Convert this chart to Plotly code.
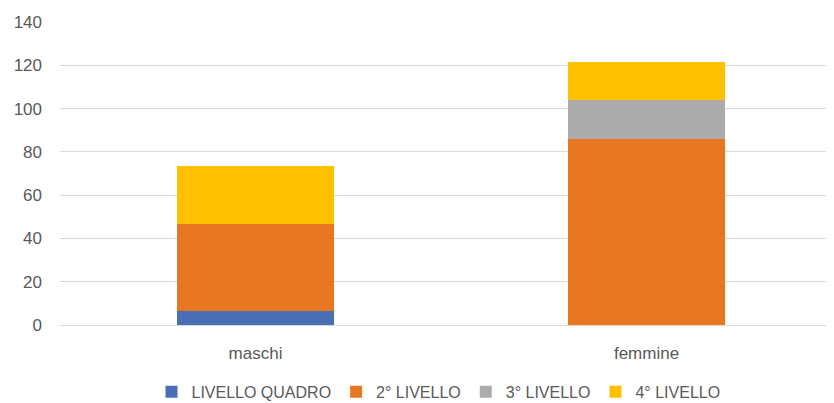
import plotly.graph_objects as go

categories = ["maschi", "femmine"]
series_names = ["LIVELLO QUADRO", "2° LIVELLO", "3° LIVELLO", "4° LIVELLO"]
livello_quadro = [6.5, 0]
livello_2 = [40, 86]
livello_3 = [0, 18]
livello_4 = [27, 17.5]
colors = ["#4A6EB5", "#E87722", "#ABABAB", "#FFC000"]

fig = go.Figure()
for name, vals, col in zip(series_names, [livello_quadro, livello_2, livello_3, livello_4], colors):
    fig.add_trace(go.Bar(x=categories, y=vals, name=name, marker=dict(color=col, line=dict(width=0)), width=0.4))

font = dict(family="Liberation Sans, Arial, sans-serif", size=17, color="#595959")
legend_font = dict(family="Liberation Sans, Arial, sans-serif", size=16, color="#595959")
# page body has an 8px margin, so the figure is offset 8px in the window
fig.update_layout(
    barmode="stack",
    width=834, height=395,
    margin=dict(l=52, r=0, t=14, b=78, autoexpand=False),
    plot_bgcolor="white", paper_bgcolor="white",
    font=font,
    showlegend=True,
    legend=dict(orientation="h", traceorder="normal", x=0.117, xanchor="left",
                yref="container", y=0.028, yanchor="middle",
                font=legend_font, itemwidth=30, tracegroupgap=0),
    xaxis=dict(range=[-0.5, 1.5], showgrid=False, showline=False, ticks="", tickfont=font,
               automargin=False, ticklabelstandoff=16),
    yaxis=dict(range=[0, 140], dtick=20, showgrid=True, gridcolor="#D9D9D9", gridwidth=1,
               zeroline=True, zerolinecolor="#D9D9D9", zerolinewidth=1, showline=False,
               ticks="", tickfont=font, ticklabelstandoff=17, automargin=False),
)
fig.write_html("out.html")
